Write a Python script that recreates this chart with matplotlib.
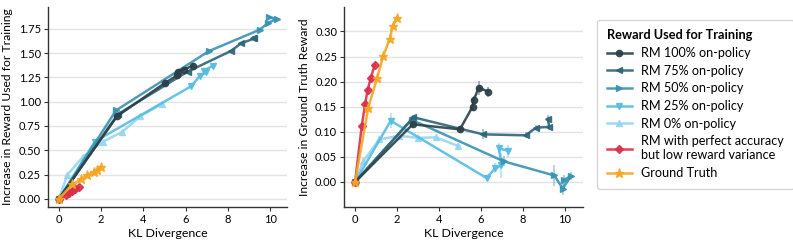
import matplotlib
matplotlib.use("Agg")
import matplotlib.pyplot as plt
from matplotlib.lines import Line2D

plt.rcParams['font.family'] = ['Lato', 'DejaVu Sans']

labels = ["RM 100% on-policy", "RM 75% on-policy", "RM 50% on-policy",
          "RM 25% on-policy", "RM 0% on-policy",
          "RM with perfect accuracy\nbut low reward variance", "Ground Truth"]
colors = ["#2b3f48", "#2e6577", "#3a93b3", "#55bde0", "#97d5ee", "#d9304a", "#f5a623"]
markers = ["o", "<", ">", "v", "^", "D", "*"]

kl100 = [0, 2.75, 5.0, 5.6, 5.65, 5.9, 6.35]
tr100 = [0, 0.85, 1.19, 1.27, 1.31, 1.33, 1.37]
gt100 = [0, 0.115, 0.105, 0.150, 0.163, 0.188, 0.180]
er100 = [0, 0.005, 0.006, 0.008, 0.008, 0.014, 0.010]

kl75 = [0, 2.78, 6.1, 8.13, 8.62, 9.25, 9.2]
tr75 = [0, 0.87, 1.31, 1.52, 1.60, 1.65, 1.66]
gt75 = [0, 0.129, 0.095, 0.093, 0.108, 0.110, 0.126]
er75 = [0, 0.005, 0.010, 0.006, 0.005, 0.006, 0.008]

kl50 = [0, 2.7, 7.1, 9.5, 9.9, 10.3, 9.95]
tr50 = [0, 0.91, 1.52, 1.74, 1.81, 1.85, 1.87]
gt50 = [0, 0.124, 0.041, 0.013, -0.013, 0.012, 0.004]
er50 = [0, 0.005, 0.010, 0.020, 0.012, 0.008, 0.010]

kl25 = [0, 1.7, 6.27, 6.67, 6.98, 6.86, 7.3]
tr25 = [0, 0.59, 1.16, 1.265, 1.31, 1.32, 1.37]
gt25 = [0, 0.122, 0.008, 0.027, 0.033, 0.067, 0.062]
er25 = [0, 0.015, 0.006, 0.010, 0.025, 0.010, 0.012]

kl0 = [0, 0.4, 1.15, 2.1, 3.0, 3.85, 4.9]
tr0 = [0, 0.25, 0.435, 0.59, 0.69, 0.85, 0.98]
gt0 = [0, 0.042, 0.085, 0.092, 0.088, 0.089, 0.072]
er0 = [0, 0.008, 0.006, 0.006, 0.008, 0.005, 0.005]

klP = [0, 0.32, 0.48, 0.6, 0.75, 0.93]
trP = [0, 0.04, 0.06, 0.08, 0.10, 0.12]
gtP = [0, 0.112, 0.155, 0.184, 0.207, 0.233]
erP = [0, 0.004, 0.004, 0.004, 0.004, 0.004]

klG = [0, 0.63, 1.05, 1.35, 1.65, 1.8, 2.0]
trG = [0, 0.15, 0.20, 0.25, 0.28, 0.30, 0.33]
gtG = [0, 0.148, 0.207, 0.252, 0.285, 0.311, 0.327]
erG = [0, 0.004, 0.004, 0.004, 0.004, 0.004, 0.004]

series = [
    (kl100, tr100, gt100, er100),
    (kl75, tr75, gt75, er75),
    (kl50, tr50, gt50, er50),
    (kl25, tr25, gt25, er25),
    (kl0, tr0, gt0, er0),
    (klP, trP, gtP, erP),
    (klG, trG, gtG, erG),
]

fig = plt.figure(figsize=(7.93, 2.46), dpi=100)
ax1 = fig.add_axes([0.0605, 0.159, 0.3015, 0.813])
ax2 = fig.add_axes([0.434, 0.159, 0.301, 0.813])

draw_order = [4, 3, 2, 1, 0, 5, 6]
for i in draw_order:
    kl, tr, gt, er = series[i]
    ms = 6.5 if markers[i] == "*" else 4.5
    ax1.plot(kl, tr, color=colors[i], marker=markers[i], lw=1.8, ms=ms,
             alpha=0.9, mfc=colors[i], mec=colors[i], zorder=3)
    ax2.errorbar(kl, gt, yerr=er, fmt='none', ecolor=colors[i], alpha=0.45,
                 lw=1.2, zorder=2)
    ax2.plot(kl, gt, color=colors[i], marker=markers[i], lw=1.8, ms=ms,
             alpha=0.9, mfc=colors[i], mec=colors[i], zorder=3)

ax1.set_xlim(-0.52, 10.8)
ax1.set_ylim(-0.082, 1.975)
ax1.set_yticks([0, 0.25, 0.5, 0.75, 1.0, 1.25, 1.5, 1.75])
ax1.set_xticks([0, 2, 4, 6, 8, 10])
ax1.set_ylabel("Increase in Reward Used for Training", fontsize=8.7, labelpad=4)

ax2.set_xlim(-0.52, 10.86)
ax2.set_ylim(-0.0496, 0.349)
ax2.set_yticks([0, 0.05, 0.1, 0.15, 0.2, 0.25, 0.3])
ax2.set_xticks([0, 2, 4, 6, 8, 10])
ax2.set_ylabel("Increase in Ground Truth Reward", fontsize=8.7, labelpad=4)

for ax in (ax1, ax2):
    ax.set_xlabel("KL Divergence", fontsize=8.9, labelpad=2)
    ax.grid(axis='y', color='#e3e3e3', lw=1)
    ax.set_axisbelow(True)
    for s in ('top', 'right'):
        ax.spines[s].set_visible(False)
    for s in ('left', 'bottom'):
        ax.spines[s].set_color('#333333')
        ax.spines[s].set_linewidth(1)
    ax.tick_params(labelsize=8, length=3, width=0.8, color='#333333', pad=2)
    ax.set_yticklabels(["{:.2f}".format(t) for t in ax.get_yticks()])

handles = []
for i in range(7):
    ms = 6.5 if markers[i] == "*" else 4.5
    handles.append(Line2D([0], [0], color=colors[i], marker=markers[i], lw=1.8,
                          ms=ms, alpha=0.9))
leg = fig.legend(handles, labels, loc='upper left', bbox_to_anchor=(0.745, 0.945),
                 title="Reward Used for Training", fontsize=9.1,
                 title_fontproperties={'weight': 'bold', 'size': 9.2},
                 frameon=True, handlelength=2.0, labelspacing=0.45,
                 borderpad=0.75, handletextpad=0.75)
leg.get_frame().set_edgecolor('#cccccc')
leg._legend_box.align = "left"

fig.savefig("out.png", dpi=100)
